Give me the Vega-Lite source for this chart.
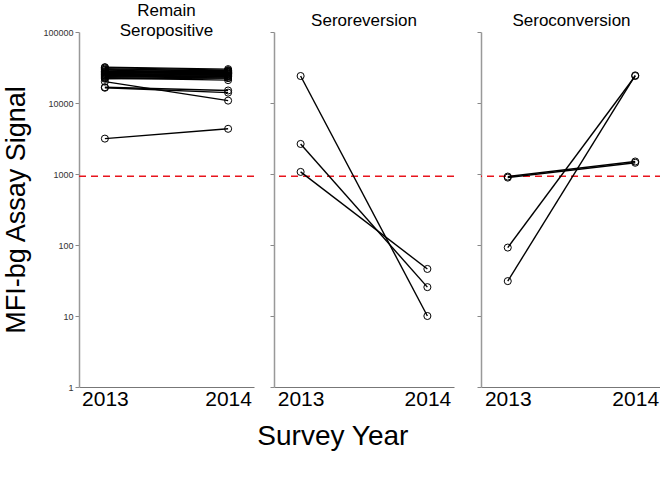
{
  "$schema": "https://vega.github.io/schema/vega-lite/v6.json",
  "background": "white",
  "padding": {"left": 2, "top": 2, "right": 0, "bottom": 0},
  "config": {
    "font": "Liberation Sans",
    "view": {"stroke": null},
    "axis": {"grid": false},
    "title": {"font": "Liberation Sans", "fontWeight": "normal", "color": "black"},
    "concat": {"spacing": 14}
  },
  "datasets": {
    "pts": [
      {"panel": "pos", "id": 1, "year": "2013", "value": 31500}, {"panel": "pos", "id": 1, "year": "2014", "value": 29000},
      {"panel": "pos", "id": 2, "year": "2013", "value": 30500}, {"panel": "pos", "id": 2, "year": "2014", "value": 28000},
      {"panel": "pos", "id": 3, "year": "2013", "value": 29500}, {"panel": "pos", "id": 3, "year": "2014", "value": 28500},
      {"panel": "pos", "id": 4, "year": "2013", "value": 29000}, {"panel": "pos", "id": 4, "year": "2014", "value": 27000},
      {"panel": "pos", "id": 5, "year": "2013", "value": 28000}, {"panel": "pos", "id": 5, "year": "2014", "value": 27500},
      {"panel": "pos", "id": 6, "year": "2013", "value": 27500}, {"panel": "pos", "id": 6, "year": "2014", "value": 26000},
      {"panel": "pos", "id": 7, "year": "2013", "value": 27000}, {"panel": "pos", "id": 7, "year": "2014", "value": 25500},
      {"panel": "pos", "id": 8, "year": "2013", "value": 26500}, {"panel": "pos", "id": 8, "year": "2014", "value": 27000},
      {"panel": "pos", "id": 9, "year": "2013", "value": 26000}, {"panel": "pos", "id": 9, "year": "2014", "value": 25000},
      {"panel": "pos", "id": 10, "year": "2013", "value": 25500}, {"panel": "pos", "id": 10, "year": "2014", "value": 24500},
      {"panel": "pos", "id": 11, "year": "2013", "value": 25000}, {"panel": "pos", "id": 11, "year": "2014", "value": 26000},
      {"panel": "pos", "id": 12, "year": "2013", "value": 24500}, {"panel": "pos", "id": 12, "year": "2014", "value": 24000},
      {"panel": "pos", "id": 13, "year": "2013", "value": 24000}, {"panel": "pos", "id": 13, "year": "2014", "value": 23500},
      {"panel": "pos", "id": 14, "year": "2013", "value": 23500}, {"panel": "pos", "id": 14, "year": "2014", "value": 22500},
      {"panel": "pos", "id": 15, "year": "2013", "value": 23000}, {"panel": "pos", "id": 15, "year": "2014", "value": 24000},
      {"panel": "pos", "id": 16, "year": "2013", "value": 22500}, {"panel": "pos", "id": 16, "year": "2014", "value": 21000},
      {"panel": "pos", "id": 17, "year": "2013", "value": 22000}, {"panel": "pos", "id": 17, "year": "2014", "value": 22500},
      {"panel": "pos", "id": 18, "year": "2013", "value": 32000}, {"panel": "pos", "id": 18, "year": "2014", "value": 30000},
      {"panel": "pos", "id": 19, "year": "2013", "value": 20000}, {"panel": "pos", "id": 19, "year": "2014", "value": 10800},
      {"panel": "pos", "id": 20, "year": "2013", "value": 16700}, {"panel": "pos", "id": 20, "year": "2014", "value": 15000},
      {"panel": "pos", "id": 21, "year": "2013", "value": 16400}, {"panel": "pos", "id": 21, "year": "2014", "value": 14000},
      {"panel": "pos", "id": 22, "year": "2013", "value": 3150}, {"panel": "pos", "id": 22, "year": "2014", "value": 4330},
      {"panel": "rev", "id": 31, "year": "2013", "value": 24000}, {"panel": "rev", "id": 31, "year": "2014", "value": 10},
      {"panel": "rev", "id": 32, "year": "2013", "value": 2650}, {"panel": "rev", "id": 32, "year": "2014", "value": 25.5},
      {"panel": "rev", "id": 33, "year": "2013", "value": 1070}, {"panel": "rev", "id": 33, "year": "2014", "value": 46},
      {"panel": "con", "id": 41, "year": "2013", "value": 92}, {"panel": "con", "id": 41, "year": "2014", "value": 24000},
      {"panel": "con", "id": 42, "year": "2013", "value": 31}, {"panel": "con", "id": 42, "year": "2014", "value": 24500},
      {"panel": "con", "id": 43, "year": "2013", "value": 890}, {"panel": "con", "id": 43, "year": "2014", "value": 1440},
      {"panel": "con", "id": 44, "year": "2013", "value": 920}, {"panel": "con", "id": 44, "year": "2014", "value": 1500}
    ],
    "cut": [{"cutoff": 930}]
  },
  "title": {"text": "Survey Year", "orient": "bottom", "anchor": "middle", "fontSize": 28, "offset": 14},
  "hconcat": [
    {
      "hconcat": [
        {
          "width": 175, "height": 355,
          "title": {"text": ["Remain", "Seropositive"], "fontSize": 17, "lineHeight": 20, "offset": -12},
          "layer": [
            {"data": {"name": "cut"}, "mark": {"type": "rule", "color": "#e8141c", "strokeDash": [7, 5], "strokeWidth": 1.5},
             "encoding": {"y": {"field": "cutoff", "type": "quantitative", "scale": {"type": "log", "domain": [1, 100000]},
              "axis": {"title": "MFI-bg Assay Signal", "titleFontSize": 27, "titleFontWeight": "normal", "titleColor": "black", "titlePadding": 12, "values": [1, 10, 100, 1000, 10000, 100000], "format": "d", "labelFontSize": 9, "labelColor": "#333", "labelPadding": 2, "tickSize": 4, "tickColor": "#888", "domainColor": "#999", "domainWidth": 1.5}}}},
            {"data": {"name": "pts"}, "transform": [{"filter": "datum.panel == 'pos'"}], "mark": {"type": "line", "color": "black", "strokeWidth": 1.4},
             "encoding": {
               "x": {"field": "year", "type": "ordinal", "scale": {"padding": 0.21}, "axis": {"title": null, "labelAngle": 0, "labelFontSize": 21, "labelColor": "black", "ticks": false, "labelPadding": 1, "domainColor": "#777", "domainWidth": 1}},
               "y": {"field": "value", "type": "quantitative", "axis": {"title": "MFI-bg Assay Signal"}},
               "detail": {"field": "id"}}},
            {"data": {"name": "pts"}, "transform": [{"filter": "datum.panel == 'pos'"}], "mark": {"type": "point", "shape": "circle", "filled": false, "color": "black", "size": 50, "strokeWidth": 1, "opacity": 1},
             "encoding": {
               "x": {"field": "year", "type": "ordinal"},
               "y": {"field": "value", "type": "quantitative", "axis": {"title": "MFI-bg Assay Signal"}}}}
          ]
        },
        {
          "width": 180, "height": 355,
          "title": {"text": "Seroreversion", "fontSize": 17, "offset": 2},
          "layer": [
            {"data": {"name": "cut"}, "mark": {"type": "rule", "color": "#e8141c", "strokeDash": [7, 5], "strokeWidth": 1.5},
             "encoding": {"y": {"field": "cutoff", "type": "quantitative", "scale": {"type": "log", "domain": [1, 100000]},
              "axis": {"title": null, "values": [1, 10, 100, 1000, 10000, 100000], "labels": false, "tickSize": 4, "tickColor": "#888", "domainColor": "#999", "domainWidth": 1.5}}}},
            {"data": {"name": "pts"}, "transform": [{"filter": "datum.panel == 'rev'"}], "mark": {"type": "line", "color": "black", "strokeWidth": 1.4},
             "encoding": {
               "x": {"field": "year", "type": "ordinal", "scale": {"padding": 0.21}, "axis": {"title": null, "labelAngle": 0, "labelFontSize": 21, "labelColor": "black", "ticks": false, "labelPadding": 1, "domainColor": "#777", "domainWidth": 1}},
               "y": {"field": "value", "type": "quantitative", "axis": {"title": null}},
               "detail": {"field": "id"}}},
            {"data": {"name": "pts"}, "transform": [{"filter": "datum.panel == 'rev'"}], "mark": {"type": "point", "shape": "circle", "filled": false, "color": "black", "size": 50, "strokeWidth": 1, "opacity": 1},
             "encoding": {
               "x": {"field": "year", "type": "ordinal"},
               "y": {"field": "value", "type": "quantitative", "axis": {"title": null}}}}
          ]
        }
      ]
    },
    {
      "width": 181, "height": 355,
      "title": {"text": "Seroconversion", "fontSize": 17, "offset": 2},
      "layer": [
        {"data": {"name": "cut"}, "mark": {"type": "rule", "color": "#e8141c", "strokeDash": [7, 5], "strokeWidth": 1.5},
         "encoding": {"y": {"field": "cutoff", "type": "quantitative", "scale": {"type": "log", "domain": [1, 100000]},
          "axis": {"title": null, "values": [1, 10, 100, 1000, 10000, 100000], "labels": false, "tickSize": 4, "tickColor": "#888", "domainColor": "#999", "domainWidth": 1.5}}}},
        {"data": {"name": "pts"}, "transform": [{"filter": "datum.panel == 'con'"}], "mark": {"type": "line", "color": "black", "strokeWidth": 1.4},
         "encoding": {
           "x": {"field": "year", "type": "ordinal", "scale": {"padding": 0.21}, "axis": {"title": null, "labelAngle": 0, "labelFontSize": 21, "labelColor": "black", "ticks": false, "labelPadding": 1, "domainColor": "#777", "domainWidth": 1}},
           "y": {"field": "value", "type": "quantitative", "axis": {"title": null}},
           "detail": {"field": "id"}}},
        {"data": {"name": "pts"}, "transform": [{"filter": "datum.panel == 'con'"}], "mark": {"type": "point", "shape": "circle", "filled": false, "color": "black", "size": 50, "strokeWidth": 1, "opacity": 1},
         "encoding": {
           "x": {"field": "year", "type": "ordinal"},
           "y": {"field": "value", "type": "quantitative", "axis": {"title": null}}}}
      ]
    }
  ],
  "spacing": 21
}
